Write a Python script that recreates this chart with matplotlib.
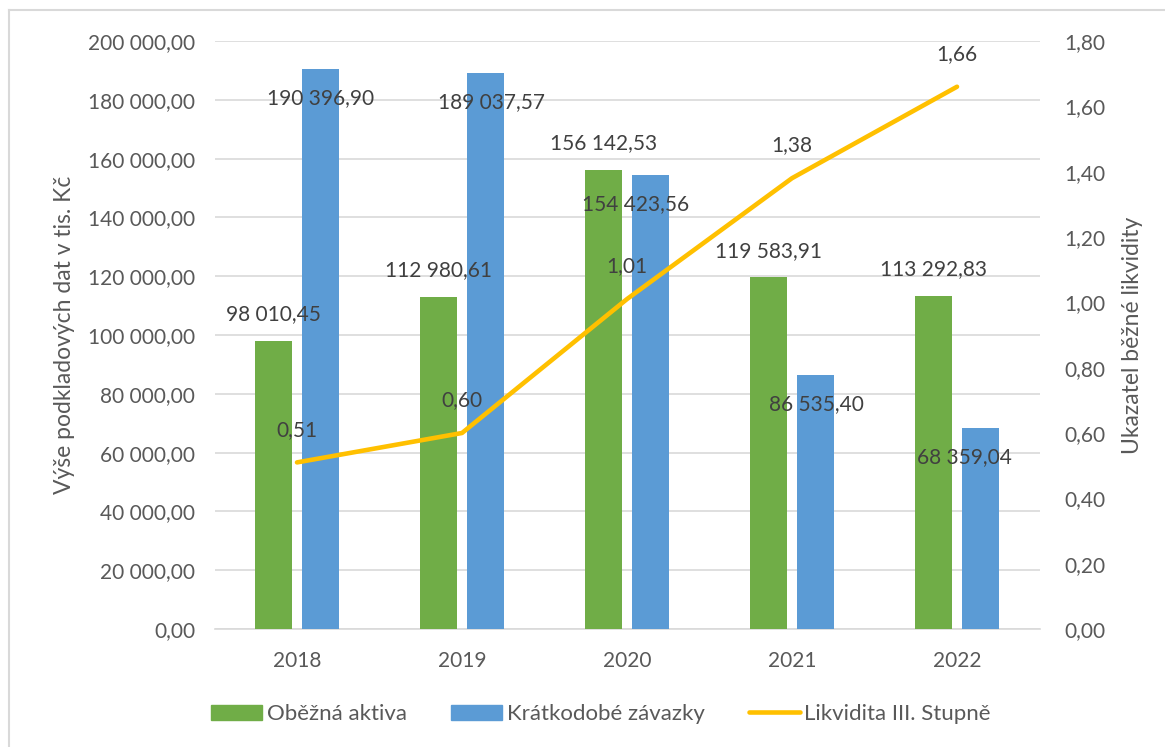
import matplotlib
matplotlib.use("Agg")
import matplotlib.pyplot as plt
from matplotlib.lines import Line2D
from matplotlib.ticker import FuncFormatter
import numpy as np

years = ["2018", "2019", "2020", "2021", "2022"]
obezna_aktiva = [98010.45, 112980.61, 156142.53, 119583.91, 113292.83]
kratkodobe_zavazky = [190396.90, 189037.57, 154423.56, 86535.40, 68359.04]
likvidita = [0.51, 0.60, 1.01, 1.38, 1.66]

GREEN = "#70AD47"
BLUE = "#5B9BD5"
GOLD = "#FFC000"
TEXT = "#595959"
GRID = "#D9D9D9"
FONT = ["Lato", "DejaVu Sans"]

plt.rcParams["font.family"] = FONT


def cz(v, dec=2):
    s = f"{v:,.{dec}f}"
    return s.replace(",", " ").replace(".", ",")


W, H = 1165, 747
fig = plt.figure(figsize=(W / 100, H / 100), dpi=100)
ax = fig.add_axes([214.5 / W, (H - 629) / H, 825 / W, 588 / H])
ax2 = ax.twinx()

x = np.arange(len(years))
bw = 0.225
off = 0.142
ax.bar(x - off, obezna_aktiva, bw, color=GREEN, zorder=3)
ax.bar(x + off, kratkodobe_zavazky, bw, color=BLUE, zorder=3)

ax.set_xlim(-0.5, len(years) - 0.5)
ax.set_ylim(0, 200000)
ax.set_yticks(np.arange(0, 200001, 20000))
ax.yaxis.set_major_formatter(FuncFormatter(lambda v, p: cz(v)))
ax.set_xticks(x)
ax.set_xticklabels(years)
ax.grid(axis="y", color=GRID, linewidth=1.2, zorder=0)
ax.set_axisbelow(True)
for s in ["top", "right", "left"]:
    ax.spines[s].set_visible(False)
ax.spines["bottom"].set_color(GRID)
ax.spines["bottom"].set_linewidth(1.2)
ax.tick_params(axis="both", length=0, labelsize=15, colors=TEXT)
ax.tick_params(axis="y", pad=14)
ax.tick_params(axis="x", pad=16)
ax.set_ylabel("Výše podkladových dat v tis. Kč", fontsize=16.5, color=TEXT, labelpad=9)

ax2.plot(x, likvidita, color=GOLD, linewidth=3.3, solid_capstyle="round", zorder=4)
ax2.set_ylim(0, 1.8)
ax2.set_yticks(np.arange(0, 1.81, 0.2))
ax2.yaxis.set_major_formatter(FuncFormatter(lambda v, p: cz(v)))
for s in ["top", "right", "left", "bottom"]:
    ax2.spines[s].set_visible(False)
ax2.tick_params(axis="y", length=0, labelsize=15, colors=TEXT, pad=18)
ax2.set_ylabel("Ukazatel běžné likvidity", fontsize=16.5, color=TEXT, labelpad=12)

# value labels
for i, v in enumerate(obezna_aktiva):
    ax.annotate(cz(v), (x[i] - off, v), xytext=(0, 19), textcoords="offset points",
                ha="center", va="center", fontsize=15, color="#404040", zorder=6)
blue_dx = [0, 6, -15, 1, -16]
for i, v in enumerate(kratkodobe_zavazky):
    ax.annotate(cz(v), (x[i] + off, v), xytext=(blue_dx[i] * 0.72, -21), textcoords="offset points",
                ha="center", va="center", fontsize=15, color="#404040", zorder=6)
for i, v in enumerate(likvidita):
    ax2.annotate(cz(v), (x[i], v), xytext=(0, 23.5), textcoords="offset points",
                 ha="center", va="center", fontsize=15, color="#404040", zorder=6)

handles = [
    plt.Rectangle((0, 0), 1, 1, color=GREEN),
    plt.Rectangle((0, 0), 1, 1, color=BLUE),
    Line2D([0], [0], color=GOLD, linewidth=3.3, solid_capstyle="round"),
]
labels = ["Oběžná aktiva", "Krátkodobé závazky", "Likvidita III. Stupně"]
fig.legend(handles, labels, loc="center", bbox_to_anchor=(601 / W, (H - 714) / H),
           ncol=3, frameon=False, fontsize=16, labelcolor=TEXT,
           handlelength=2.3, handleheight=0.65, handletextpad=0.2, columnspacing=2.0)

# chart frame
fig.add_artist(Line2D([9 / W, 1], [(H - 10) / H, (H - 10) / H], color=GRID, linewidth=1.5))
fig.add_artist(Line2D([9 / W, 9 / W], [0, (H - 10) / H], color=GRID, linewidth=1.5))

fig.savefig("out.png", dpi=100)
